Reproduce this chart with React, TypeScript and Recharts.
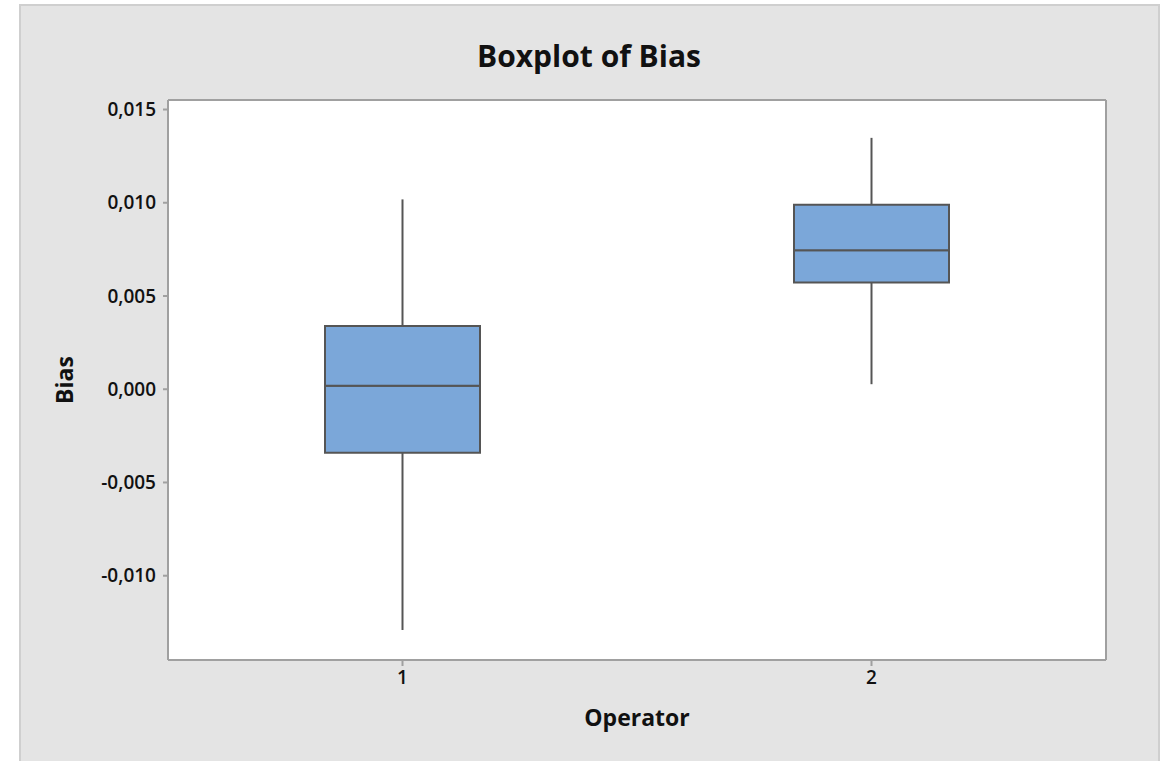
import React from "react";
import {
  ComposedChart,
  Bar,
  XAxis,
  YAxis,
  CartesianGrid,
} from "recharts";

// five-number summaries
const operators = ["1", "2"];
const whiskerLow = [-0.01291, 0.00027];
const q1 = [-0.00341, 0.00573];
const median = [0.00018, 0.00745];
const q3 = [0.00339, 0.00989];
const whiskerHigh = [0.01018, 0.01348];

const yTicks = [-0.01, -0.005, 0, 0.005, 0.01, 0.015];
const yDomain = [-0.01452, 0.01551];

const data = operators.map((op, i) => ({
  op,
  base: whiskerLow[i],
  lowWhisker: q1[i] - whiskerLow[i],
  lowBox: median[i] - q1[i],
  highBox: q3[i] - median[i],
  highWhisker: whiskerHigh[i] - q3[i],
}));

const FONT = "'Open Sans', 'Noto Sans', sans-serif";
const LINE = "#555555";
const BOX = "#7BA7D9";
const AXIS = "#A0A0A0";

const fmt = (v: number) => v.toFixed(3).replace(".", ",");

const Whisker = (props: any) => {
  const { x, y, width, height } = props;
  const cx = x + width / 2;
  return (
    <line x1={cx} x2={cx} y1={y} y2={y + height} stroke={LINE} strokeWidth={2} />
  );
};

const tickStyle = { fontFamily: FONT, fontSize: 19, fontWeight: 600, fill: "#111" };

export default function App() {
  return (
    <div style={{ position: "fixed", left: 0, top: 0, width: 1165, height: 761, background: "#fff", overflow: "hidden" }}>
      <div
        style={{
          position: "absolute",
          left: 19,
          top: 4,
          width: 1137,
          height: 770,
          background: "#E4E4E4",
          border: "2px solid #CFCFCF",
        }}
      />
      <div
        style={{
          position: "absolute",
          left: 20,
          width: 1138,
          top: 36,
          textAlign: "center",
          fontFamily: FONT,
          fontSize: 30,
          fontWeight: 700,
          color: "#111",
          lineHeight: "40px",
        }}
      >
        Boxplot of Bias
      </div>
      <div
        style={{
          position: "absolute",
          left: 64,
          top: 380,
          transform: "translate(-50%, -50%) rotate(-90deg)",
          fontFamily: FONT,
          fontSize: 23,
          fontWeight: 700,
          color: "#111",
          whiteSpace: "nowrap",
        }}
      >
        Bias
      </div>
      <div
        style={{
          position: "absolute",
          left: 637,
          top: 717,
          transform: "translate(-50%, -50%)",
          fontFamily: FONT,
          fontSize: 23,
          fontWeight: 700,
          color: "#111",
          whiteSpace: "nowrap",
        }}
      >
        Operator
      </div>
      <div style={{ position: "absolute", left: 0, top: 0 }}>
        <ComposedChart
          width={1165}
          height={761}
          data={data}
          stackOffset="none"
          margin={{ top: 99, right: 58, bottom: 41, left: 68 }}
        >
          <CartesianGrid horizontal={false} vertical={false} fill="#FFFFFF" />
          <XAxis
            dataKey="op"
            height={60}
            tick={tickStyle}
            tickSize={6}
            tickMargin={5}
            axisLine={{ stroke: AXIS, strokeWidth: 2 }}
            tickLine={{ stroke: AXIS, strokeWidth: 2 }}
          />
          <XAxis
            xAxisId="top"
            dataKey="op"
            orientation="top"
            height={1}
            tick={false}
            tickLine={false}
            axisLine={{ stroke: AXIS, strokeWidth: 2 }}
          />
          <YAxis
            type="number"
            width={100}
            domain={yDomain}
            ticks={yTicks}
            allowDataOverflow
            tickFormatter={fmt}
            tick={tickStyle}
            tickSize={5}
            tickMargin={7}
            axisLine={{ stroke: AXIS, strokeWidth: 2 }}
            tickLine={{ stroke: AXIS, strokeWidth: 2 }}
          />
          <YAxis
            yAxisId="right"
            orientation="right"
            type="number"
            width={1}
            domain={yDomain}
            allowDataOverflow
            tick={false}
            tickLine={false}
            axisLine={{ stroke: AXIS, strokeWidth: 2 }}
          />
          <Bar dataKey="base" stackId="box" fill="transparent" barSize={155} isAnimationActive={false} />
          <Bar dataKey="lowWhisker" stackId="box" shape={<Whisker />} barSize={155} isAnimationActive={false} />
          <Bar dataKey="lowBox" stackId="box" fill={BOX} stroke={LINE} strokeWidth={2} barSize={155} isAnimationActive={false} />
          <Bar dataKey="highBox" stackId="box" fill={BOX} stroke={LINE} strokeWidth={2} barSize={155} isAnimationActive={false} />
          <Bar dataKey="highWhisker" stackId="box" shape={<Whisker />} barSize={155} isAnimationActive={false} />
        </ComposedChart>
      </div>
    </div>
  );
}
